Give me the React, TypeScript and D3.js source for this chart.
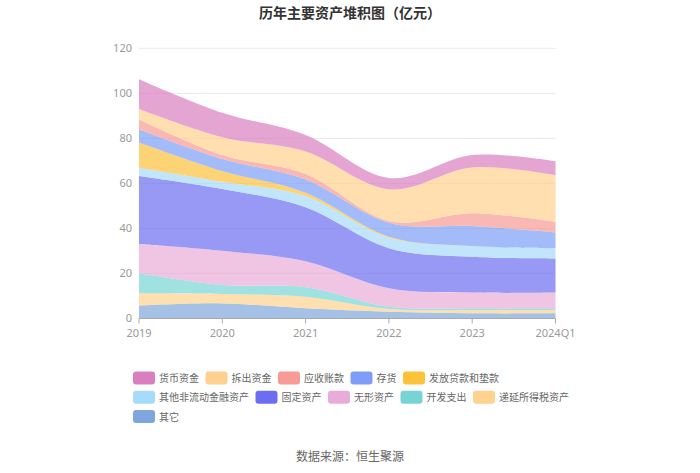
import React from "react";
import * as d3 from "d3";

const years = ["2019", "2020", "2021", "2022", "2023", "2024Q1"];
const yTicks = [0, 20, 40, 60, 80, 100, 120];

// bottom -> top order
const seriesNames = [
  "其它",
  "递延所得税资产",
  "开发支出",
  "无形资产",
  "固定资产",
  "其他非流动金融资产",
  "发放贷款和垫款",
  "存货",
  "应收账款",
  "拆出资金",
  "货币资金",
];

const qita = [5.7, 6.7, 4.5, 3.0, 2.3, 2.3];
const diyan = [5.5, 4.2, 5.2, 1.2, 1.5, 1.5];
const kaifa = [8.9, 4.0, 4.2, 1.0, 0.7, 0.7];
const wuxing = [13.0, 15.2, 11.5, 8.2, 7.0, 7.0];
const guding = [30.2, 27.4, 24.0, 17.8, 15.9, 15.2];
const qitaFeiliudong = [3.7, 3.2, 4.9, 4.7, 4.8, 4.5];
const fafang = [11.2, 4.8, 1.5, 0.4, 0, 0];
const cunhuo = [5.8, 5.3, 5.9, 6.2, 8.9, 7.1];
const yingshou = [4.4, 1.8, 2.5, 0.8, 5.6, 4.6];
const chaichu = [4.6, 7.9, 10.0, 14.1, 20.4, 20.7];
const huobi = [13.3, 10.9, 7.3, 5.0, 5.5, 6.2];

const seriesValues = [qita, diyan, kaifa, wuxing, guding, qitaFeiliudong, fafang, cunhuo, yingshou, chaichu, huobi];

const colors: Record<string, string> = {
  货币资金: "#d97fc0",
  拆出资金: "#ffd08f",
  应收账款: "#f89a96",
  存货: "#7d9ef8",
  发放贷款和垫款: "#fcc23a",
  其他非流动金融资产: "#a6dcfa",
  固定资产: "#6b6ef0",
  无形资产: "#e9acd8",
  开发支出: "#78d4d4",
  递延所得税资产: "#fdd38f",
  其它: "#7fa6dc",
};

const legendRows = [
  ["货币资金", "拆出资金", "应收账款", "存货", "发放贷款和垫款"],
  ["其他非流动金融资产", "固定资产", "无形资产", "开发支出", "递延所得税资产"],
  ["其它"],
];

const FONT = "'Noto Sans CJK SC', 'Noto Sans', sans-serif";
const NUM_FONT = "'Noto Sans', 'Noto Sans CJK SC', sans-serif";

export default function App() {
  const left = 139, right = 555.5, top = 48.3, bottom = 318.5;
  const x = d3.scalePoint<string>().domain(years).range([left, right]);
  const y = d3.scaleLinear().domain([0, 120]).range([bottom, top]);

  const table = years.map((yr, i) => {
    const row: Record<string, any> = { year: yr };
    seriesNames.forEach((n, k) => (row[n] = seriesValues[k][i]));
    return row;
  });
  const stacked = d3.stack<any>().keys(seriesNames)(table);
  const area = d3
    .area<any>()
    .x((d) => x(d.data.year)!)
    .y0((d) => y(d[0]))
    .y1((d) => y(d[1]))
    .curve(d3.curveCardinal.tension(0));

  const legendItems: { name: string; x: number; y: number }[] = [];
  legendRows.forEach((row, r) => {
    let lx = 133;
    row.forEach((name) => {
      legendItems.push({ name, x: lx, y: 378 + r * 19.3 });
      lx += 32.5 + 10 * name.length;
    });
  });

  return (
    <svg width={700} height={473} style={{ position: "absolute", left: 0, top: 0, fontFamily: FONT }}>
      <rect width={700} height={473} fill="#fff" />
      <text x={350} y={18} textAnchor="middle" fontSize={14} fontWeight="bold" fill="#333">
        历年主要资产堆积图（亿元）
      </text>
      {yTicks.map((t) => (
        <g key={t}>
          {t > 0 && <line x1={left} x2={right} y1={y(t)} y2={y(t)} stroke="#e8e8e8" strokeWidth={1} />}
          <text x={132} y={y(t) + 3.2} textAnchor="end" fontSize={11} fill="#999" fontFamily={NUM_FONT}>
            {t}
          </text>
        </g>
      ))}
      {stacked.map((s) => (
        <path key={s.key} d={area(s as any) || ""} fill={colors[s.key]} fillOpacity={0.7} />
      ))}
      <line x1={left} x2={right} y1={bottom} y2={bottom} stroke="#aaa" strokeWidth={1} />
      {years.map((yr) => (
        <g key={yr}>
          <line x1={x(yr)} x2={x(yr)} y1={bottom} y2={bottom + 5} stroke="#aaa" />
          <text x={x(yr)} y={bottom + 18.5} textAnchor="middle" fontSize={11} fill="#999" fontFamily={NUM_FONT}>
            {yr}
          </text>
        </g>
      ))}
      {legendItems.map((it) => (
        <g key={it.name}>
          <rect x={it.x} y={it.y - 6.5} width={22} height={13} rx={3} fill={colors[it.name]} />
          <text x={it.x + 26} y={it.y + 4} fontSize={10} fill="#666">
            {it.name}
          </text>
        </g>
      ))}
      <text x={350} y={461} textAnchor="middle" fontSize={12} fill="#666">
        数据来源：恒生聚源
      </text>
    </svg>
  );
}
